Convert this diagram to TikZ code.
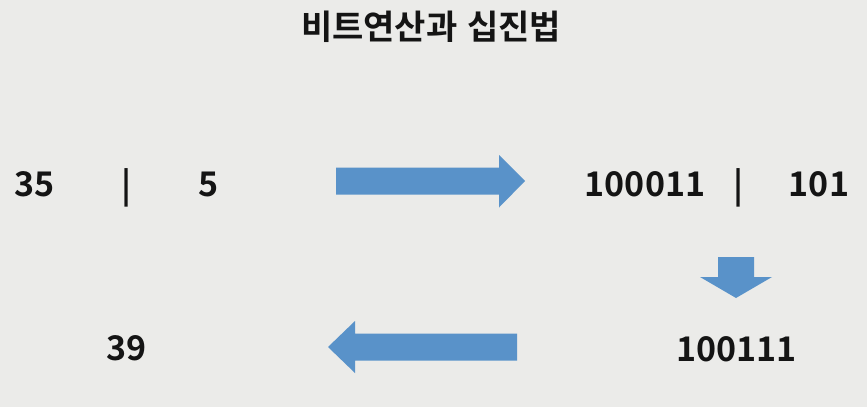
\documentclass[tikz,border=0pt]{standalone}
\usepackage{fontspec}
\newfontfamily\krfont{Noto Sans CJK KR Bold}
\definecolor{bgc}{RGB}{235,235,233}
\definecolor{arrowblue}{RGB}{89,146,201}
\definecolor{txt}{RGB}{20,20,20}
\begin{document}
\begin{tikzpicture}[x=1pt,y=-1pt,
  num/.style={anchor=base,inner sep=0pt,text=txt,font=\krfont\fontsize{34}{40}\selectfont},
  ttl/.style={anchor=base,inner sep=0pt,text=txt,font=\krfont\fontsize{34}{38}\selectfont},
  blockarrow/.style={fill=arrowblue,draw=none}]
\useasboundingbox (0,0) rectangle (867,407);
\fill[bgc] (0,0) rectangle (867,407);
\node[ttl] (title) at (431,39) {비트연산과\hspace{2pt} 십진법};
\node[num] (a35) at (35,196) {35};
\node[num] (bar1) at (127,197) {|};
\node[num] (a5) at (209,196) {5};
\node[num] (b100011) at (645,196) {100011};
\node[num] (bar2) at (739,197) {|};
\node[num] (b101) at (819,196) {101};
\node[num] (c100111) at (736.5,361) {100111};
\node[num] (d39) at (126.5,360) {39};
% right arrow
\fill[blockarrow] (336,167.5) -- (499,167.5) -- (499,155) -- (525,181) -- (499,207.5) -- (499,194.5) -- (336,194.5) -- cycle;
% down arrow
\fill[blockarrow] (718,257) -- (754,257) -- (754,277) -- (772,277) -- (736,298) -- (700,277) -- (718,277) -- cycle;
% left arrow
\fill[blockarrow] (517,333.5) -- (355,333.5) -- (355,321) -- (328,347) -- (355,373) -- (355,360.5) -- (517,360.5) -- cycle;
\end{tikzpicture}
\end{document}
